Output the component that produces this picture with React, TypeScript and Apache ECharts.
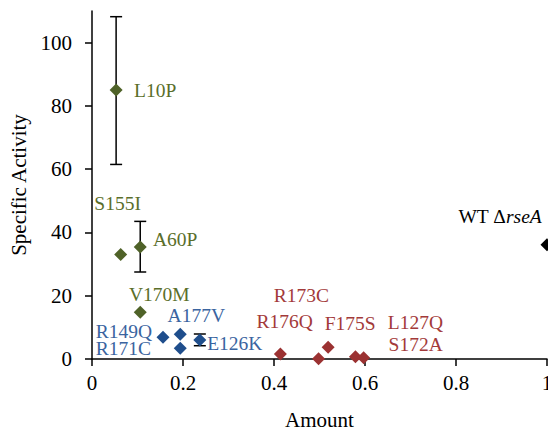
import React, { useEffect, useRef } from "react";
import * as echarts from "echarts";

// ---- data ----
const greenNames = ["L10P", "S155I", "A60P", "V170M"];
const greenX = [0.053, 0.063, 0.106, 0.106];
const greenY = [85, 33, 35.4, 14.8];

const blueNames = ["R149Q", "A177V", "R171C", "E126K"];
const blueX = [0.156, 0.194, 0.194, 0.237];
const blueY = [6.9, 7.8, 3.4, 6.0];

const redNames = ["R173C", "R176Q", "F175S", "L127Q", "S172A"];
const redX = [0.414, 0.498, 0.519, 0.579, 0.597];
const redY = [1.6, 0.1, 3.7, 0.7, 0.4];

const wtNames = ["WT ΔrseA"];
const wtX = [1];
const wtY = [36.1];

// error bars: [x, low, high]
const errX = [0.053, 0.106, 0.237];
const errLow = [61.5, 27.5, 4.2];
const errHigh = [108.2, 43.5, 7.9];

const xTicks = [0, 0.2, 0.4, 0.6, 0.8, 1];
const yTicks = [0, 20, 40, 60, 80, 100];

// ---- label placement (pixel offsets from point centre) ----
const labelOffsets: Record<string, [number, number]> = {
  L10P: [39, 0],
  S155I: [-3, -51],
  A60P: [35, -8],
  V170M: [19, -18],
  R149Q: [-39, -6],
  A177V: [16, -19],
  R171C: [-57, 0],
  E126K: [35, 3],
  R173C: [21, -58],
  R176Q: [-34, -37],
  F175S: [22, -24],
  L127Q: [60, -34],
  S172A: [52, -13],
  "WT ΔrseA": [-47, -28],
};

const FONT = "Liberation Serif";

function makeSeries(
  names: string[],
  xs: number[],
  ys: number[],
  color: string,
  textColor: string
) {
  return {
    type: "scatter",
    symbol: "diamond",
    symbolSize: 13,
    itemStyle: { color, opacity: 1 },
    z: 3,
    data: names.map((n, i) => ({
      name: n,
      value: [xs[i], ys[i]],
      label: {
        show: true,
        position: "inside",
        align: "center",
        verticalAlign: "middle",
        offset: labelOffsets[n],
        color: textColor,
        opacity: 1,
        fontFamily: FONT,
        fontSize: 19.5,
        formatter: n === "WT ΔrseA" ? "{a|WT Δ}{b|rseA}" : n,
        rich:
          n === "WT ΔrseA"
            ? {
                a: { fontFamily: FONT, fontSize: 19.5, color: textColor },
                b: {
                  fontFamily: FONT,
                  fontSize: 19.5,
                  fontStyle: "italic",
                  color: textColor,
                },
              }
            : undefined,
      },
    })),
  };
}

export default function App() {
  const ref = useRef<HTMLDivElement>(null);
  useEffect(() => {
    if (!ref.current) return;
    const chart = echarts.init(ref.current, null, { renderer: "svg" });
    const axisLabelStyle = { color: "#000", fontFamily: FONT, fontSize: 21 };
    chart.setOption({
      animation: false,
      backgroundColor: "#fff",
      grid: { left: 92, right: 1, top: 11, bottom: 73, containLabel: false, outerBoundsMode: "none" },
      xAxis: {
        type: "value",
        min: 0,
        max: 1,
        interval: 0.2,
        name: "Amount",
        nameLocation: "middle",
        nameGap: 50,
        nameTextStyle: axisLabelStyle,
        splitLine: { show: false },
        axisLine: { show: true, onZero: false, lineStyle: { color: "#000", width: 1.5 } },
        axisTick: { show: true, length: 7, lineStyle: { color: "#000", width: 1.5 }, customValues: xTicks },
        axisLabel: { ...axisLabelStyle, margin: 13, customValues: xTicks, hideOverlap: false },
      },
      yAxis: {
        type: "value",
        min: 0,
        max: 110,
        interval: 20,
        name: "Specific Activity",
        nameLocation: "middle",
        nameGap: 58,
        nameTextStyle: axisLabelStyle,
        splitLine: { show: false },
        axisLine: { show: true, onZero: false, lineStyle: { color: "#000", width: 1.5 } },
        axisTick: { show: true, length: 7, lineStyle: { color: "#000", width: 1.5 }, customValues: yTicks },
        axisLabel: { ...axisLabelStyle, margin: 20, customValues: yTicks },
      },
      series: [
        {
          type: "custom",
          z: 2,
          data: errX.map((x, i) => [x, errLow[i], errHigh[i]]),
          renderItem: (params: any, api: any) => {
            const x = api.value(0);
            const lo = api.coord([x, api.value(1)]);
            const hi = api.coord([x, api.value(2)]);
            const w = 6;
            const style = { stroke: "#000", lineWidth: 1.5 };
            return {
              type: "group",
              children: [
                { type: "line", shape: { x1: lo[0], y1: lo[1], x2: hi[0], y2: hi[1] }, style },
                { type: "line", shape: { x1: lo[0] - w, y1: lo[1], x2: lo[0] + w, y2: lo[1] }, style },
                { type: "line", shape: { x1: hi[0] - w, y1: hi[1], x2: hi[0] + w, y2: hi[1] }, style },
              ],
            };
          },
        },
        makeSeries(greenNames, greenX, greenY, "#4f6228", "#5a6e2a"),
        makeSeries(blueNames, blueX, blueY, "#1f4e8c", "#3a64a0"),
        makeSeries(redNames, redX, redY, "#9b3232", "#a33a3a"),
        makeSeries(wtNames, wtX, wtY, "#000", "#000"),
      ],
    });
    return () => chart.dispose();
  }, []);
  return <div ref={ref} style={{ width: 548, height: 432, position: "absolute", left: 0, top: 0 }} />;
}
